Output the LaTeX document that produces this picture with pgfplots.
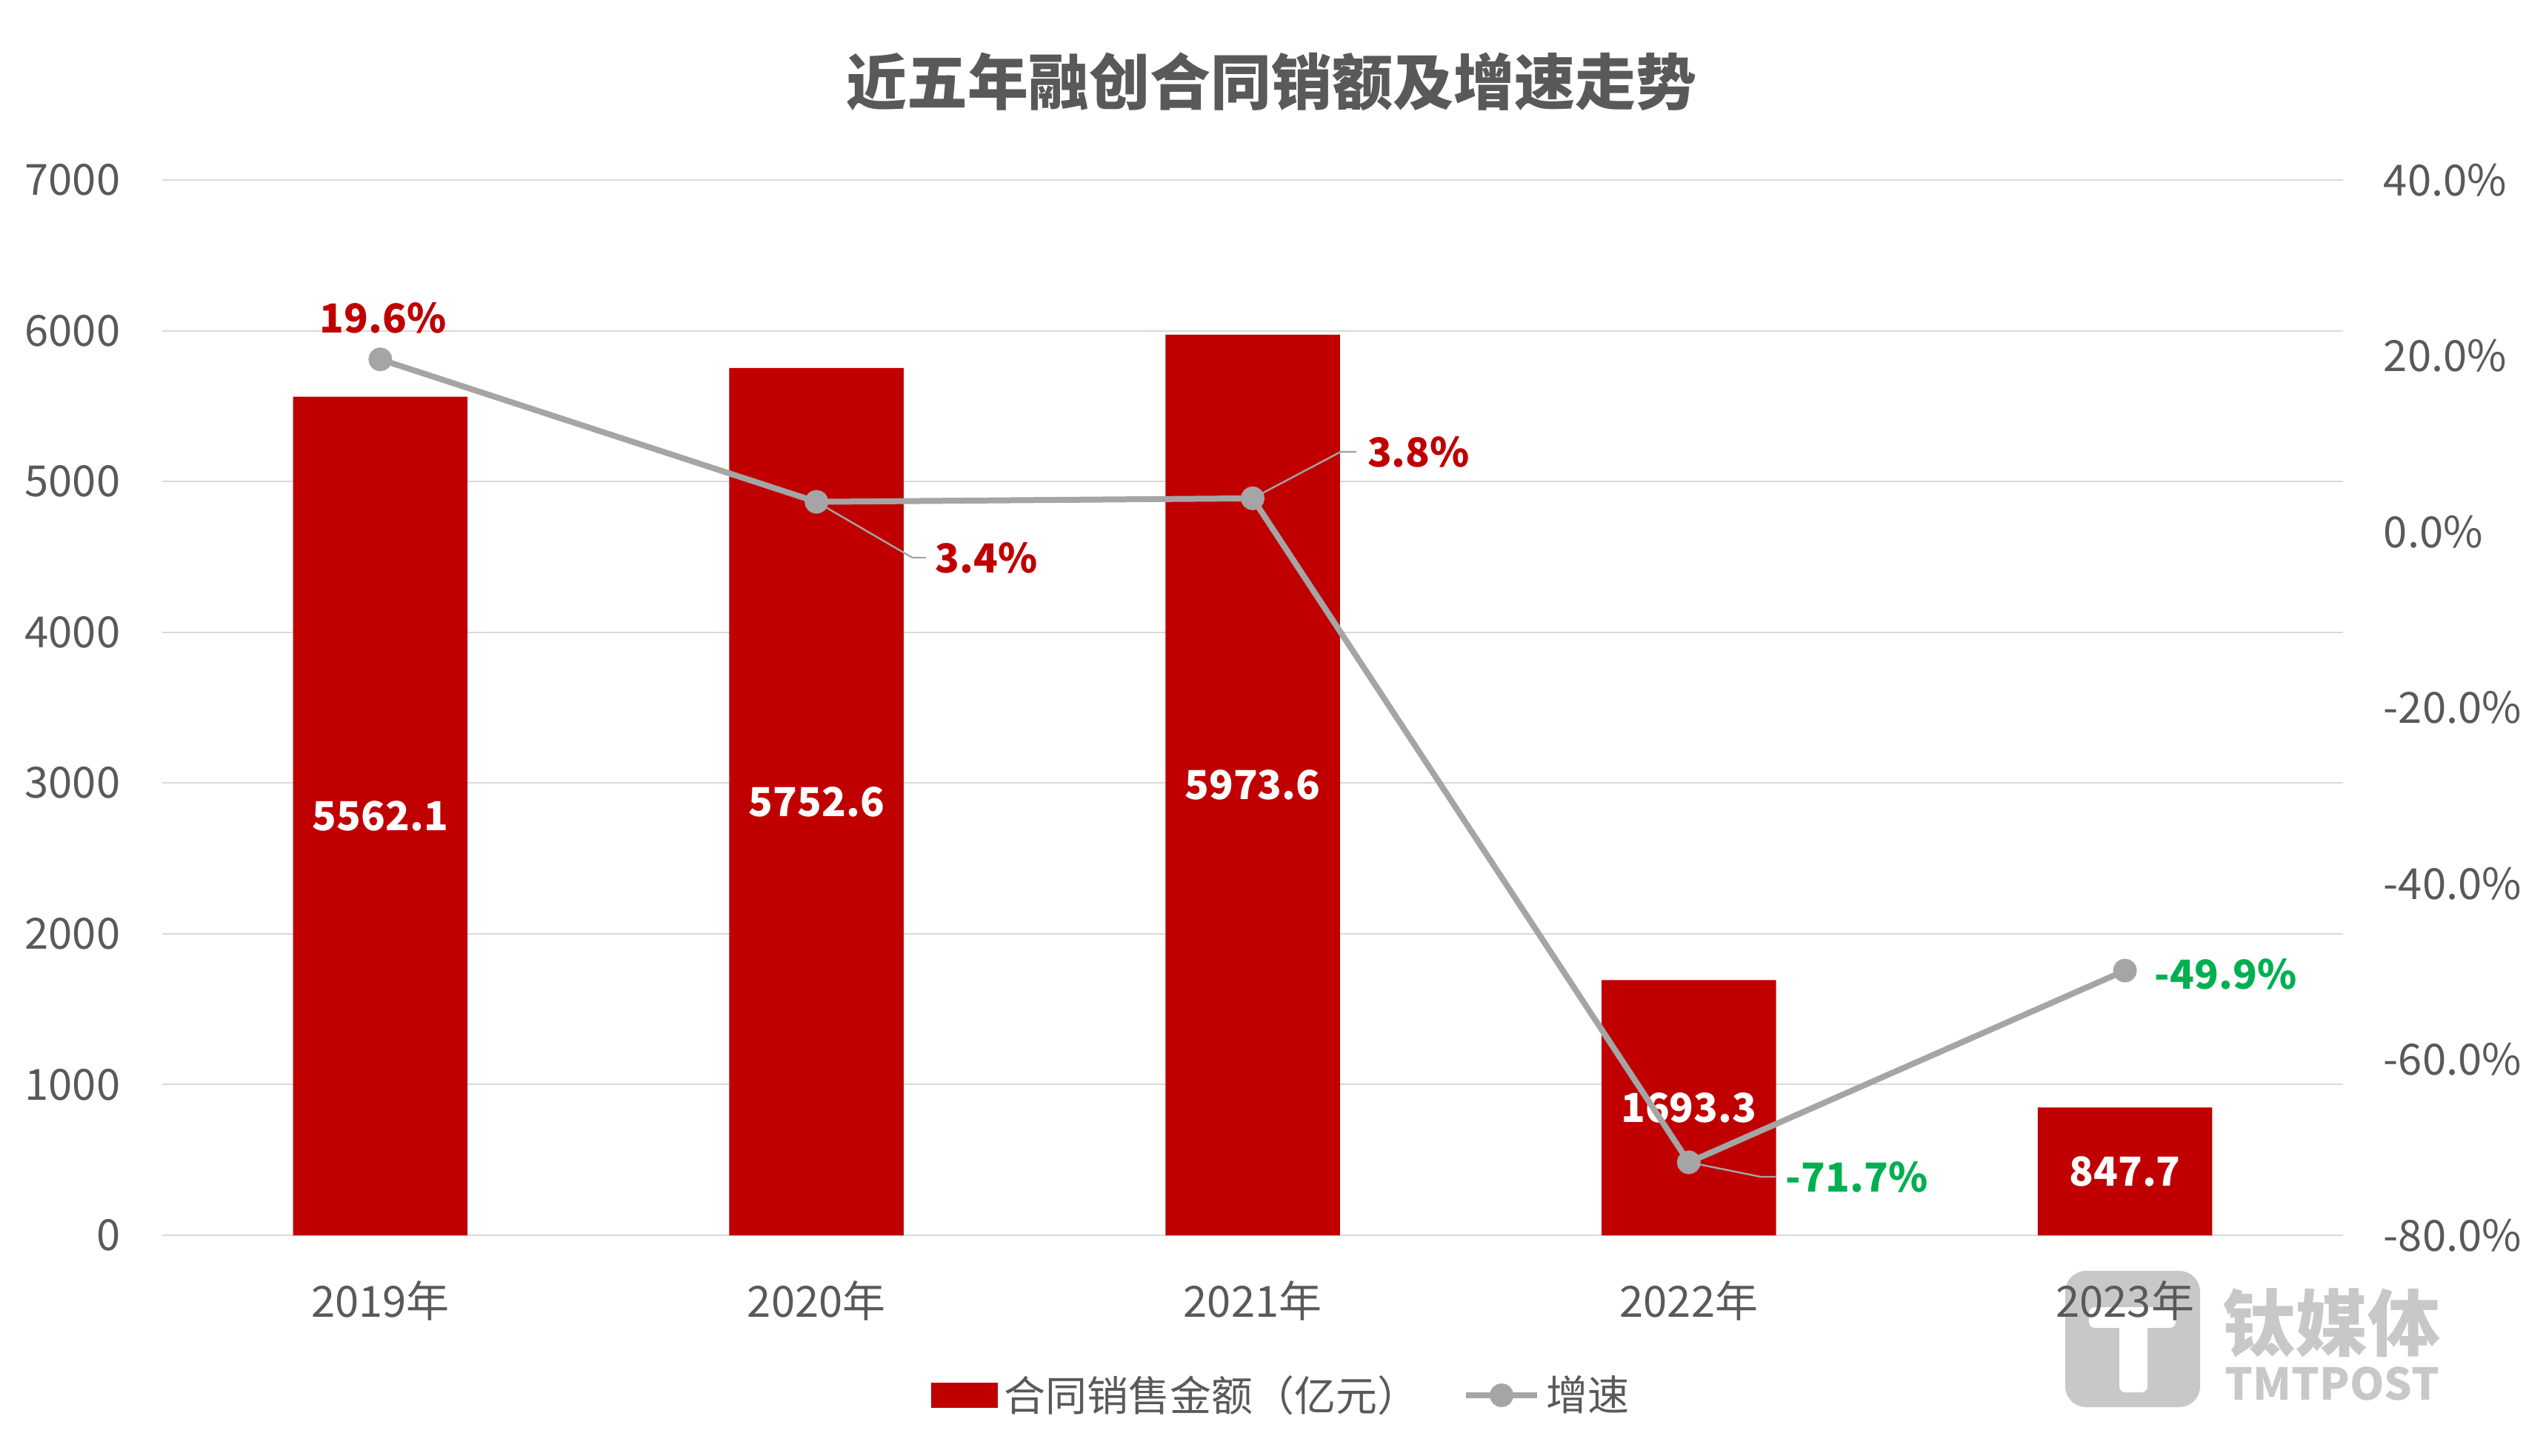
\documentclass[border=0pt]{standalone}
\usepackage{pgfplots}
\pgfplotsset{compat=1.18}
\usepackage{fontspec}
\setmainfont{Noto Sans CJK SC}
\definecolor{barred}{HTML}{C00000}
\definecolor{lblgreen}{HTML}{00B050}
\definecolor{txtgray}{HTML}{595959}
\definecolor{gridgray}{HTML}{D9D9D9}
\definecolor{linegray}{HTML}{A5A5A5}
\definecolor{wmgray}{HTML}{C8C8C8}
\newcommand{\fs}[1]{\fontsize{#1}{#1}\selectfont}
\begin{document}
\begin{tikzpicture}
\useasboundingbox (0,0) rectangle (859.25pt,-491.5pt);
\begin{scope}[x=0.25pt,y=-0.25pt]
\node[font=\fs{20.5}\bfseries, text=txtgray] at (1716,110) {近五年融创合同销额及增速走势};
\fill[wmgray, rounded corners=7pt] (2788,1716) rectangle (2970,1900);
\fill[white, rounded corners=2pt] (2820,1765) rectangle (2937,1793);
\fill[white, rounded corners=2pt] (2861,1770) rectangle (2899,1880);
\node[font=\fs{24.5}\bfseries, text=wmgray, anchor=west, inner sep=0pt] at (3000,1786) {钛媒体};
\node[font=\fs{14.8}\bfseries, text=wmgray, anchor=west, inner sep=0pt] at (3003,1868) {TMTPOST};
\end{scope}
\begin{axis}[
  at={(54.75pt,-417pt)}, anchor=south west, scale only axis,
  width=736pt, height=356.25pt,
  xmin=-0.5, xmax=4.5, ymin=0, ymax=7000,
  xtick={0,1,2,3,4}, xticklabels={2019年,2020年,2021年,2022年,2023年},
  ytick={0,1000,...,7000},
  axis line style={draw=none}, major tick length=0pt,
  ymajorgrids, grid style={gridgray, line width=0.5pt},
  tick label style={font=\fs{14.5}, text=txtgray},
  /pgf/number format/assume math mode=true, /pgf/number format/1000 sep={},
  yticklabel style={anchor=east, inner sep=0pt, xshift=-14pt},
  xticklabel style={anchor=center, inner sep=0pt, yshift=-22pt},
  clip=false,
]
\addplot[ybar, bar width=0.40, fill=barred, draw=none] coordinates {(0,5562.1) (1,5752.6) (2,5973.6) (3,1693.3) (4,847.7)};
\node[font=\fs{13.5}\bfseries, text=white] at (axis cs:0,2781.05) {5562.1};
\node[font=\fs{13.5}\bfseries, text=white] at (axis cs:1,2876.3) {5752.6};
\node[font=\fs{13.5}\bfseries, text=white] at (axis cs:2,2986.8) {5973.6};
\node[font=\fs{13.5}\bfseries, text=white] at (axis cs:3,846.65) {1693.3};
\node[font=\fs{13.5}\bfseries, text=white] at (axis cs:4,423.85) {847.7};
\end{axis}
\begin{axis}[
  at={(54.75pt,-417pt)}, anchor=south west, scale only axis,
  width=736pt, height=356.25pt,
  xmin=-0.5, xmax=4.5, ymin=-80, ymax=40,
  hide x axis,
  axis line style={draw=none}, major tick length=0pt,
  yticklabel pos=right,
  ytick={-80,-60,...,40},
  /pgf/number format/assume math mode=true,
  yticklabel={\pgfmathprintnumber[fixed,fixed zerofill,precision=1]{\tick}\%},
  yticklabel style={anchor=west, inner sep=0pt, xshift=13.5pt, font=\fs{14.5}, text=txtgray},
  legend columns=2,
  legend style={at={(0.514,-0.1516)}, anchor=center, draw=none, fill=none, font=\fs{14}, text=txtgray,
    /tikz/every even column/.append style={column sep=13pt}},
  clip=false,
]
\addlegendimage{legend image code/.code={\fill[barred] (0pt,-4.1pt) rectangle (22pt,4.1pt);}}
\addlegendentry{合同销售金额（亿元）}
\addplot[linegray, line width=2pt, mark=*, mark size=3pt, mark options={fill=linegray, draw=linegray},
  legend image code/.code={\draw[linegray, line width=2pt] (0pt,0pt) -- (24pt,0pt); \fill[linegray] (12pt,0pt) circle (3pt);}]
  coordinates {(0,19.6) (1,3.4) (2,3.8) (3,-71.7) (4,-49.9)};
\addlegendentry{增速}
\draw[linegray, line width=0.6pt] (axis cs:1,3.4) -- (axis cs:1.220,-2.95) -- (axis cs:1.251,-2.95);
\draw[linegray, line width=0.6pt] (axis cs:2,3.8) -- (axis cs:2.202,9.09) -- (axis cs:2.238,9.09);
\draw[linegray, line width=0.6pt] (axis cs:3,-71.7) -- (axis cs:3.165,-73.35) -- (axis cs:3.199,-73.35);
\node[font=\fs{13.5}\bfseries, text=barred] at (axis cs:0.006,24.34) {19.6\%};
\node[font=\fs{13.5}\bfseries, text=barred, anchor=west, inner sep=0pt] at (axis cs:1.271,-2.95) {3.4\%};
\node[font=\fs{13.5}\bfseries, text=barred, anchor=west, inner sep=0pt] at (axis cs:2.262,9.09) {3.8\%};
\node[font=\fs{13.5}\bfseries, text=lblgreen, anchor=west, inner sep=0pt] at (axis cs:3.221,-73.35) {-71.7\%};
\node[font=\fs{13.5}\bfseries, text=lblgreen, anchor=west, inner sep=0pt] at (axis cs:4.067,-50.27) {-49.9\%};
\end{axis}
\end{tikzpicture}
\end{document}
